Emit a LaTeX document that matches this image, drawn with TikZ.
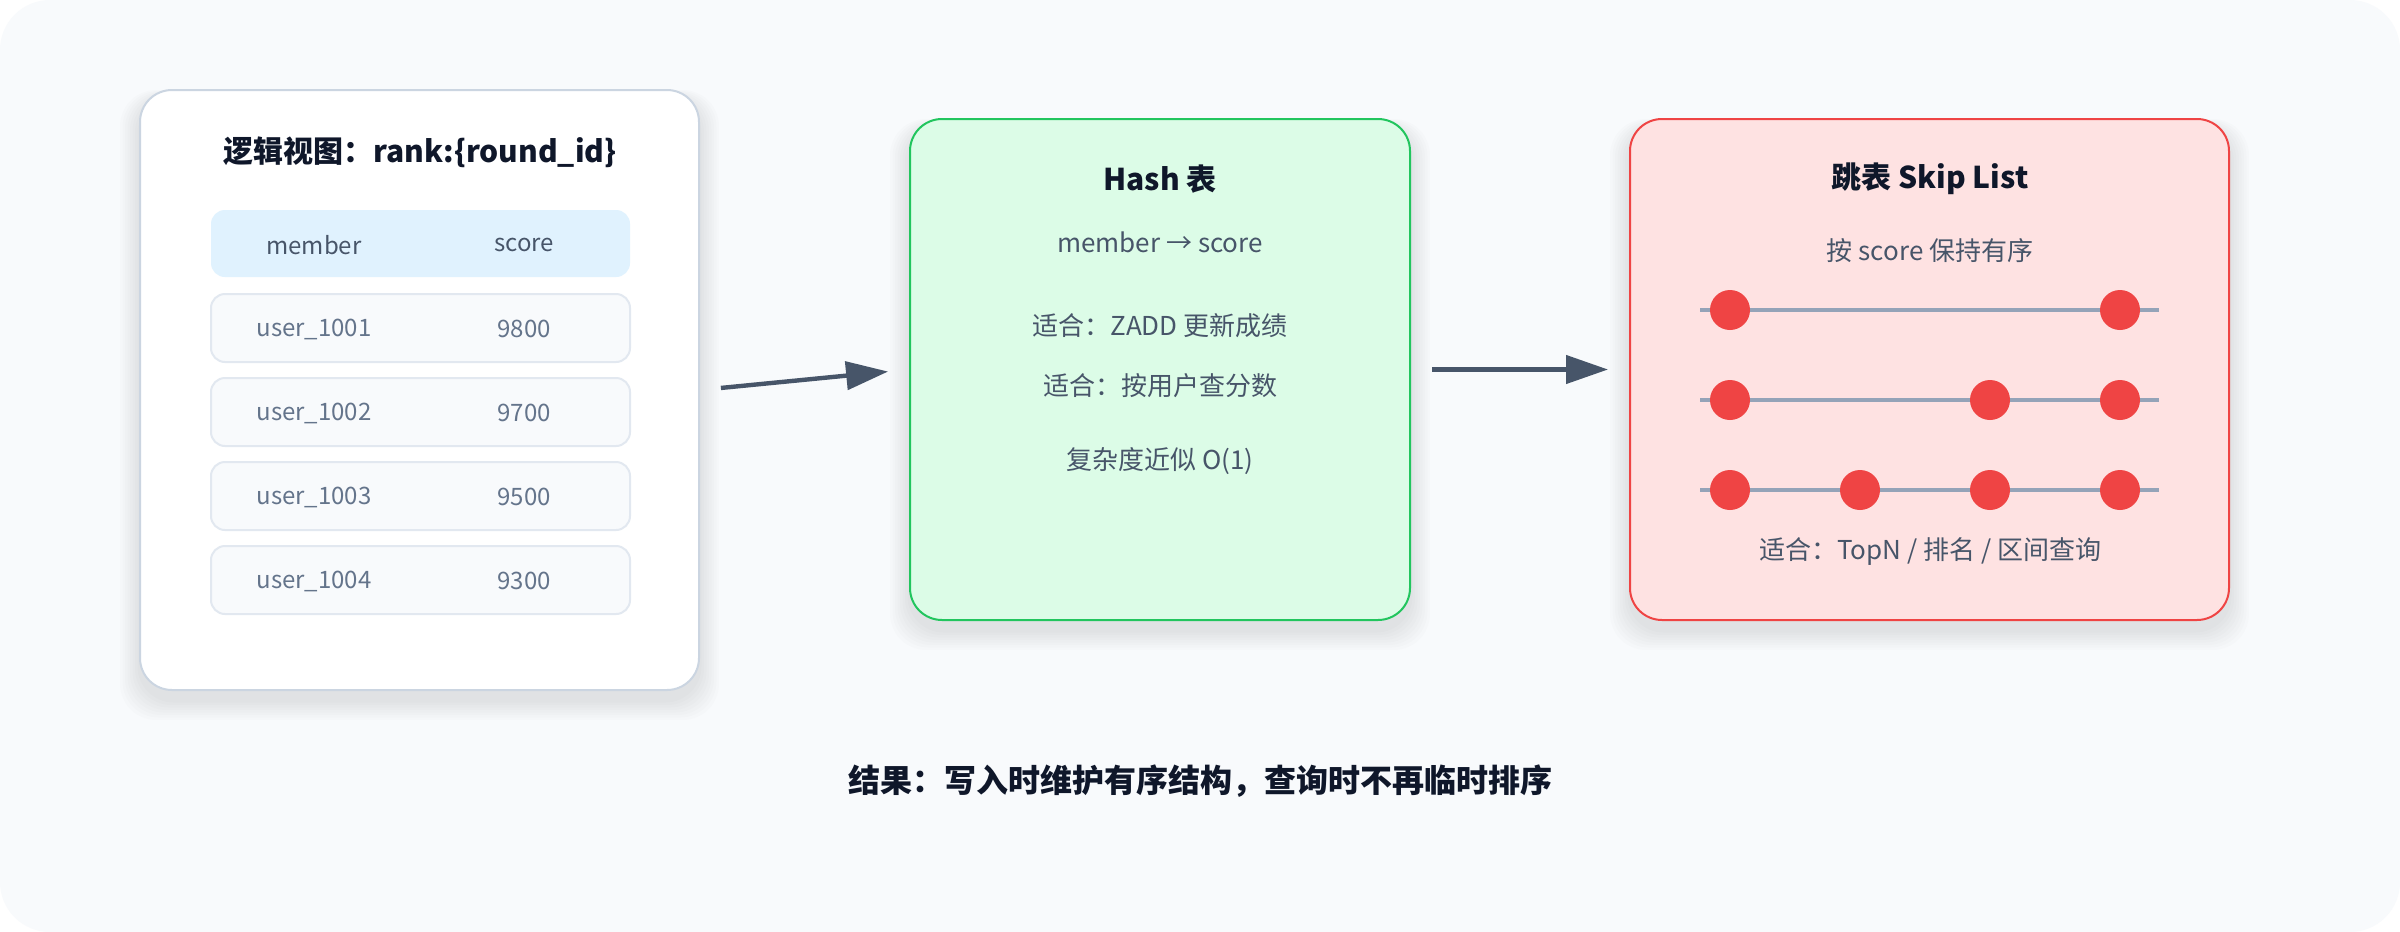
\documentclass[tikz,border=0pt]{standalone}
\usepackage{fontspec}
\setmainfont{Noto Sans CJK SC}
\usetikzlibrary{arrows.meta}
\definecolor{bgc}{HTML}{F8FAFC}
\definecolor{cardline}{HTML}{CBD5E1}
\definecolor{hdrfill}{HTML}{E0F2FE}
\definecolor{rowfill}{HTML}{F8FAFC}
\definecolor{rowline}{HTML}{E2E8F0}
\definecolor{gline}{HTML}{22C55E}
\definecolor{gfill}{HTML}{DCFCE7}
\definecolor{rline}{HTML}{EF4444}
\definecolor{rfill}{HTML}{FEE2E2}
\definecolor{slline}{HTML}{94A3B8}
\definecolor{dotc}{HTML}{EF4444}
\definecolor{arrc}{HTML}{475569}
\definecolor{titlec}{HTML}{0F172A}
\definecolor{bodyc}{HTML}{475569}
\definecolor{rowc}{HTML}{64748B}
\newcommand\softshadow[4]{%
  \foreach \i in {1,...,8}{
    \fill[black, opacity=0.012, rounded corners=18pt]
      ({#1-\i*2.5}, {#2+8-\i*1}) rectangle ({#3+\i*2.5}, {#4+10+\i*2.5});
  }}
\tikzset{
  cardbox/.style={draw, line width=1pt, rounded corners=16pt, inner sep=0pt},
  hdrbox/.style={fill=hdrfill, rounded corners=7pt, minimum width=209.5pt, minimum height=33.5pt, inner sep=0pt},
  rowbox/.style={fill=rowfill, draw=rowline, line width=1pt, rounded corners=7pt, minimum width=209.5pt, minimum height=34pt, inner sep=0pt},
  ttl/.style={text=titlec, font=\fontsize{15pt}{18pt}\selectfont\bfseries, inner sep=0pt},
  bigttl/.style={text=titlec, font=\fontsize{16pt}{19pt}\selectfont\bfseries, inner sep=0pt},
  body/.style={text=bodyc, font=\fontsize{13pt}{16pt}\selectfont, inner sep=0pt},
  hdrtxt/.style={text=bodyc, font=\fontsize{12pt}{15pt}\selectfont, inner sep=0pt},
  rowtxt/.style={text=rowc, font=\fontsize{12pt}{15pt}\selectfont, inner sep=0pt},
  dot/.style={circle, fill=dotc, minimum size=20pt, inner sep=0pt},
  level/.style={draw=slline, line width=2.2pt},
  arr/.style={draw=arrc, line width=2.2pt, -{Triangle[length=21pt, width=14pt]}, shorten <=10.5pt, shorten >=10.5pt}
}
\begin{document}
\begin{tikzpicture}[x=0.5pt, y=-0.5pt]
\useasboundingbox (0,0) rectangle (2400,932);
\fill[white] (0,0) rectangle (2400,932);
\fill[bgc, rounded corners=25pt] (0,0) rectangle (2400,932);

% shadows
\softshadow{140}{90}{699}{690}
\softshadow{910}{119}{1410}{620}
\softshadow{1630}{119}{2229}{620}

% cards
\node[cardbox, draw=cardline, fill=white, minimum width=279.5pt, minimum height=300pt] (lcard) at (419.5,390) {};
\node[cardbox, draw=gline, fill=gfill, minimum width=250pt, minimum height=250.5pt] (mcard) at (1160,369.5) {};
\node[cardbox, draw=rline, fill=rfill, minimum width=299.5pt, minimum height=250.5pt] (rcard) at (1929.5,369.5) {};

% left card
\node[ttl] (ltitle) at (420,152) {逻辑视图：rank:\{round\_id\}};
\node[hdrbox] (hdr) at (420.5,243.5) {};
\node[hdrtxt] (hmember) at (314,245) {member};
\node[hdrtxt] (hscore) at (524,245) {score};
\node[rowbox] (row1) at (420.5,328) {};
\node[rowbox] (row2) at (420.5,412) {};
\node[rowbox] (row3) at (420.5,496) {};
\node[rowbox] (row4) at (420.5,580) {};
\node[rowtxt] (u1) at (314,329) {user\_1001};
\node[rowtxt] (s1) at (524,329) {9800};
\node[rowtxt] (u2) at (314,413) {user\_1002};
\node[rowtxt] (s2) at (524,413) {9700};
\node[rowtxt] (u3) at (314,497) {user\_1003};
\node[rowtxt] (s3) at (524,497) {9500};
\node[rowtxt] (u4) at (314,581) {user\_1004};
\node[rowtxt] (s4) at (524,581) {9300};

% middle card
\node[ttl] (mtitle) at (1160,179) {Hash 表};
\node[body] (m1) at (1160,242) {member → score};
\node[body] (m2) at (1160,326) {适合：ZADD 更新成绩};
\node[body] (m3) at (1160,386) {适合：按用户查分数};
\node[body] (m4) at (1160,461) {复杂度近似 O(1)};

% right card
\node[ttl] (rtitle) at (1930,179) {跳表 Skip List};
\node[body] (r1) at (1930,251) {按 score 保持有序};
\coordinate (l1a) at (1700,310); \coordinate (l1b) at (2159,310);
\coordinate (l2a) at (1700,400); \coordinate (l2b) at (2159,400);
\coordinate (l3a) at (1700,490); \coordinate (l3b) at (2159,490);
\draw[level] (l1a) -- (l1b);
\draw[level] (l2a) -- (l2b);
\draw[level] (l3a) -- (l3b);
\node[dot] (d11) at (1730,310) {};
\node[dot] (d14) at (2120,310) {};
\node[dot] (d21) at (1730,400) {};
\node[dot] (d23) at (1990,400) {};
\node[dot] (d24) at (2120,400) {};
\node[dot] (d31) at (1730,490) {};
\node[dot] (d32) at (1860,490) {};
\node[dot] (d33) at (1990,490) {};
\node[dot] (d34) at (2120,490) {};
\node[body] (r2) at (1930,552) {适合：TopN / 排名 / 区间查询};

% arrows
\draw[arr] (lcard.east) -- (mcard.west);
\draw[arr] (mcard.east) -- (rcard.west);

% bottom
\node[bigttl] (result) at (1200,781) {结果：写入时维护有序结构，查询时不再临时排序};
\end{tikzpicture}
\end{document}
